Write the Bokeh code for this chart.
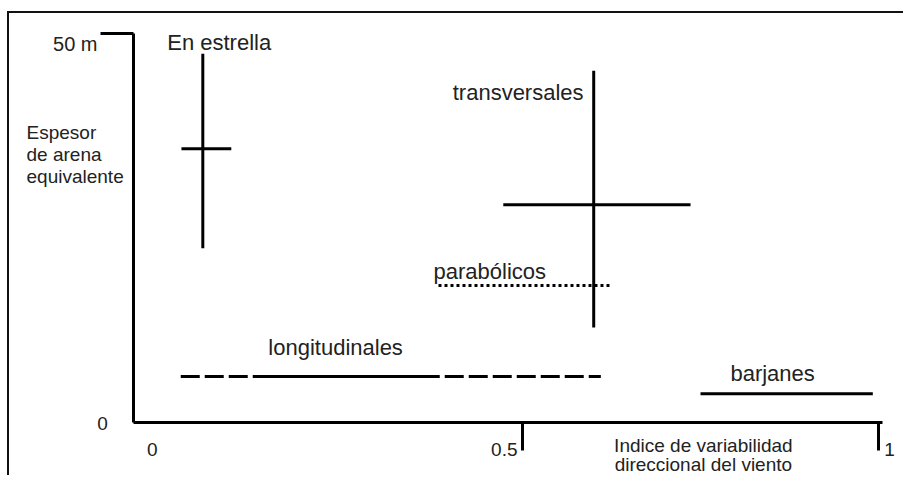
from bokeh.plotting import figure
from bokeh.models import Range1d, LinearAxis, FixedTicker
from bokeh.core.properties import value
from bokeh.embed import file_html
from bokeh.resources import INLINE

# ---- data ----
# dune types drawn as crosses: centre x, vertical extent, horizontal extent
cross_names = ["En estrella", "transversales"]
cross_x = [0.051, 0.600]
cross_y_min = [22.4, 12.2]
cross_y_max = [47.4, 45.2]
cross_y_mid = [35.2, 28.0]
cross_x_min = [0.021, 0.473]
cross_x_max = [0.091, 0.736]

# dune types drawn as horizontal ranges
parab_x = [0.382, 0.624]
parab_y = [17.6, 17.6]
longit_x = [0.020, 0.610]
longit_y = [5.9, 5.9]
longit_solid_x = [0.122, 0.382]
barj_x = [0.750, 0.992]
barj_y = [3.7, 3.7]

# in-plot labels
label_text = ["En estrella", "transversales", "parabólicos", "longitudinales", "barjanes"]
label_x = [0.001, 0.402, 0.375, 0.143, 0.792]
label_y = [48.8, 42.4, 19.4, 9.6, 6.3]

# axis labelling
x_ticks = [0.5, 1.0]
x_tick_text = ["0", "0.5", "1"]
x_tick_pos = [-0.020, 0.493, 1.008]
x_tick_align = ["center", "right", "left"]
y_top_tick = 50
y_top_text = "50 m"
y_zero_text = "0"
x_title = ["Indice de variabilidad", "direccional del viento"]
x_title_y = [-2.96, -5.45]
y_title = ["Espesor", "de arena", "equivalente"]
y_title_y = [37.28, 34.45, 31.62]

FONT = "Liberation Sans"

XS, XE = -0.2205, 1.0379
YS, YE = -7.07, 52.57
Y_AXIS_AT = -0.0463

p = figure(width=896, height=464, output_backend="svg", toolbar_location=None,
           x_range=Range1d(XS, XE), y_range=Range1d(YS, YE),
           x_axis_location=None, y_axis_location=None,
           min_border_left=0, min_border_right=0, min_border_top=0,
           min_border_bottom=0)
p.outline_line_color = None
p.xgrid.visible = False
p.ygrid.visible = False
p.background_fill_color = "white"
p.border_fill_color = "white"
p.styles = {"border-left": "2px solid #111", "border-top": "2px solid #111",
            "margin-left": "7px", "margin-top": "11px"}

def style_axis(ax):
    ax.axis_line_width = 3
    ax.axis_line_color = "black"
    ax.major_tick_line_width = 3
    ax.major_tick_line_color = "black"
    ax.major_tick_out = 0
    ax.minor_tick_out = 0
    ax.minor_tick_in = 0
    ax.major_label_text_font_size = "0px"
    ax.major_label_standoff = 0

# x axis drawn at y = 0, ticks pointing down into the frame
xa = LinearAxis(ticker=FixedTicker(ticks=x_ticks), bounds=(Y_AXIS_AT, 1.006),
                fixed_location=0)
style_axis(xa)
xa.major_tick_in = 28
p.add_layout(xa, "above")

# y axis drawn at its own x, tick pointing left
ya = LinearAxis(ticker=FixedTicker(ticks=[y_top_tick]), bounds=(0, y_top_tick),
                fixed_location=Y_AXIS_AT)
style_axis(ya)
ya.major_tick_in = 33
p.add_layout(ya, "right")

# crosses
p.segment(x0=cross_x, y0=cross_y_min, x1=cross_x, y1=cross_y_max,
          line_color="black", line_width=3)
p.segment(x0=cross_x_min, y0=cross_y_mid, x1=cross_x_max, y1=cross_y_mid,
          line_color="black", line_width=3)

# ranges
p.line(parab_x, parab_y, line_color="black", line_width=3, line_dash="3 3")
p.line(longit_x, longit_y, line_color="black", line_width=3, line_dash="19 5")
p.line(longit_solid_x, longit_y, line_color="black", line_width=3)
p.line(barj_x, barj_y, line_color="black", line_width=3)

TXT = "#222"
# in-plot labels
p.text(x=label_x, y=label_y, text=label_text, text_font=value(FONT),
       text_font_size="22px", text_color=TXT, text_align="left",
       text_baseline="alphabetic")

# y axis texts
p.text(x=[-0.0969], y=[48.71], text=[y_top_text], text_font=value(FONT),
       text_font_size="20px", text_color=TXT, text_align="right",
       text_baseline="alphabetic")
p.text(x=[-0.090], y=[-0.13], text=[y_zero_text], text_font=value(FONT),
       text_font_size="19px", text_color=TXT, text_align="center",
       text_baseline="middle")
p.text(x=[-0.1966] * len(y_title), y=y_title_y, text=y_title,
       text_font=value(FONT), text_font_size="19px", text_color=TXT,
       text_align="left", text_baseline="alphabetic")

# x tick labels
for t, xp, al in zip(x_tick_text, x_tick_pos, x_tick_align):
    p.text(x=[xp], y=[-3.5], text=[t], text_font=value(FONT),
           text_font_size="19px", text_color=TXT, text_align=al,
           text_baseline="alphabetic")

# x title
p.text(x=[0.754] * len(x_title), y=x_title_y, text=x_title,
       text_font=value(FONT), text_font_size="19px", text_color=TXT,
       text_align="center", text_baseline="alphabetic")

open("out.html", "w").write(file_html(p, INLINE))
